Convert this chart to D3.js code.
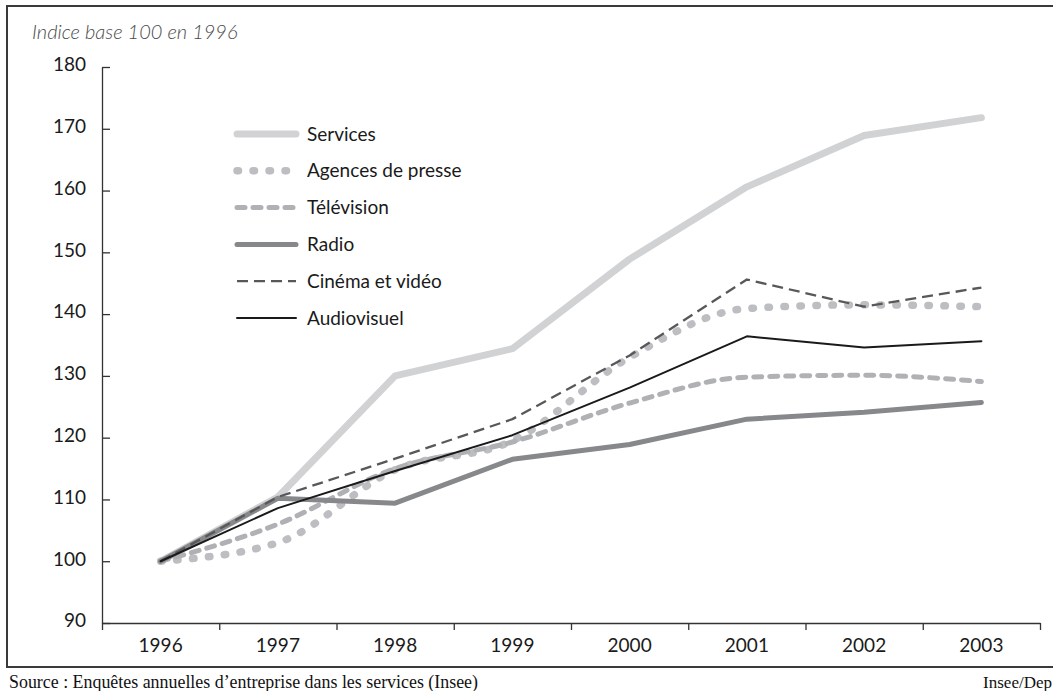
<!DOCTYPE html>
<html>
<head>
<meta charset="utf-8">
<script src="https://cdn.jsdelivr.net/npm/d3@7"></script>
<style>
  html, body { margin: 0; padding: 0; background: #fff; }
  svg { display: block; }
</style>
</head>
<body>
<svg id="chart" width="1053" height="691"></svg>
<script>
const years = [1996, 1997, 1998, 1999, 2000, 2001, 2002, 2003];
const yTicks = [90, 100, 110, 120, 130, 140, 150, 160, 170, 180];
const seriesNames = ["Services", "Agences de presse", "Télévision", "Radio", "Cinéma et vidéo", "Audiovisuel"];
const services    = [100, 110.4, 130.0, 134.4, 148.9, 160.6, 168.9, 171.8];
const agences     = [100, 103.0, 114.8, 119.5, 133.0, 140.9, 141.5, 141.2];
const television  = [100, 106.0, 115.0, 119.3, 125.6, 129.8, 130.1, 129.1];
const radio       = [100, 110.2, 109.4, 116.5, 118.9, 123.0, 124.1, 125.7];
const cinema      = [100, 110.4, 116.6, 123.0, 133.3, 145.6, 141.2, 144.3];
const audiovisuel = [100, 108.6, 114.6, 120.4, 128.1, 136.4, 134.6, 135.6];
const titleText = "Indice base 100 en 1996";
const sourceText = "Source : Enquêtes annuelles d’entreprise dans les services (Insee)";
const creditText = "Insee/Dep";

const svg = d3.select("#chart");
const FONT = "Lato, 'Open Sans', sans-serif";

const styles = [
  { color: "#d1d2d4", width: 7,   dash: null,       cap: "round", curve: d3.curveLinear },
  { color: "#bdbec1", width: 7.5, dash: "1.5 14.5", cap: "round", curve: d3.curveMonotoneX },
  { color: "#b0b1b4", width: 5,   dash: "8 8",      cap: "round", curve: d3.curveMonotoneX },
  { color: "#87888b", width: 5,   dash: null,       cap: "round", curve: d3.curveLinear },
  { color: "#58585a", width: 2.3, dash: "11 6",     cap: "butt",  curve: d3.curveLinear },
  { color: "#1a1a1a", width: 2,   dash: null,       cap: "round", curve: d3.curveLinear }
];
const values = [services, agences, television, radio, cinema, audiovisuel];

// frame
svg.append("rect").attr("x", 7).attr("y", 6).attr("width", 1100).attr("height", 661)
  .attr("fill", "none").attr("stroke", "#3a3a3a").attr("stroke-width", 2);

const x = d3.scaleBand().domain(years).range([102, 1040]).padding(0);
const xEdge = d3.scaleLinear().domain([1995.5, 2003.5]).range([102, 1040]);
const y = d3.scaleLinear().domain([90, 180]).range([623, 67]);

// Y axis
const yAxis = svg.append("g").attr("transform", "translate(102,0)")
  .call(d3.axisLeft(y).tickValues(yTicks).tickSizeInner(-8).tickSizeOuter(0).tickPadding(16).tickFormat(d3.format("d")));
yAxis.select(".domain").attr("stroke", "#333").attr("stroke-width", 1.3);
yAxis.selectAll(".tick line").attr("stroke", "#333").attr("stroke-width", 1.3);
yAxis.selectAll(".tick text").attr("font-family", FONT).attr("font-size", 19).attr("fill", "#1a1a1a").attr("dy", "0.2em");

// X axis (ticks at band edges)
const edges = years.map(d => d - 0.5).concat([years[years.length - 1] + 0.5]);
const xAxis = svg.append("g").attr("transform", "translate(0,623)")
  .call(d3.axisBottom(xEdge).tickValues(edges).tickSizeInner(7).tickSizeOuter(0).tickFormat(""));
xAxis.select(".domain").attr("stroke", "#333").attr("stroke-width", 1.3);
xAxis.selectAll(".tick line").attr("stroke", "#333").attr("stroke-width", 1.3);
svg.append("g").selectAll("text").data(years).join("text")
  .attr("x", d => x(d) + x.bandwidth() / 2).attr("y", 652)
  .attr("text-anchor", "middle").attr("font-family", FONT).attr("font-size", 19).attr("fill", "#1a1a1a")
  .text(d => d);

// lines
const cx = d => x(d) + x.bandwidth() / 2;
values.forEach((vals, i) => {
  const st = styles[i];
  const line = d3.line().x((d, j) => cx(years[j])).y(d => y(d)).curve(st.curve);
  svg.append("path").datum(vals).attr("d", line)
    .attr("fill", "none").attr("stroke", st.color).attr("stroke-width", st.width)
    .attr("stroke-linecap", st.cap).attr("stroke-linejoin", "round")
    .attr("stroke-dasharray", st.dash);
});

// legend
const legend = svg.append("g");
seriesNames.forEach((name, i) => {
  const st = styles[i];
  const ly = 134 + i * 36.8;
  legend.append("line").attr("x1", 237).attr("x2", 296).attr("y1", ly).attr("y2", ly)
    .attr("stroke", st.color).attr("stroke-width", st.width)
    .attr("stroke-linecap", st.cap).attr("stroke-dasharray", st.dash);
  legend.append("text").attr("x", 307).attr("y", ly + 6.5)
    .attr("font-family", FONT).attr("font-size", 19).attr("fill", "#1a1a1a").text(name);
});

// title
svg.append("text").attr("x", 32).attr("y", 39)
  .attr("font-family", FONT).attr("font-style", "italic").attr("font-weight", 300)
  .attr("font-size", 20).attr("fill", "#4a4a4a").text(titleText);

// source
svg.append("text").attr("x", 9).attr("y", 688)
  .attr("font-family", "'Liberation Serif', 'Times New Roman', serif").attr("font-size", 18)
  .attr("textLength", 469).attr("lengthAdjust", "spacingAndGlyphs")
  .attr("fill", "#111").text(sourceText);
svg.append("text").attr("x", 1052).attr("y", 688).attr("text-anchor", "end")
  .attr("font-family", "'Liberation Serif', 'Times New Roman', serif").attr("font-size", 17)
  .attr("fill", "#111").text(creditText);
</script>
</body>
</html>
